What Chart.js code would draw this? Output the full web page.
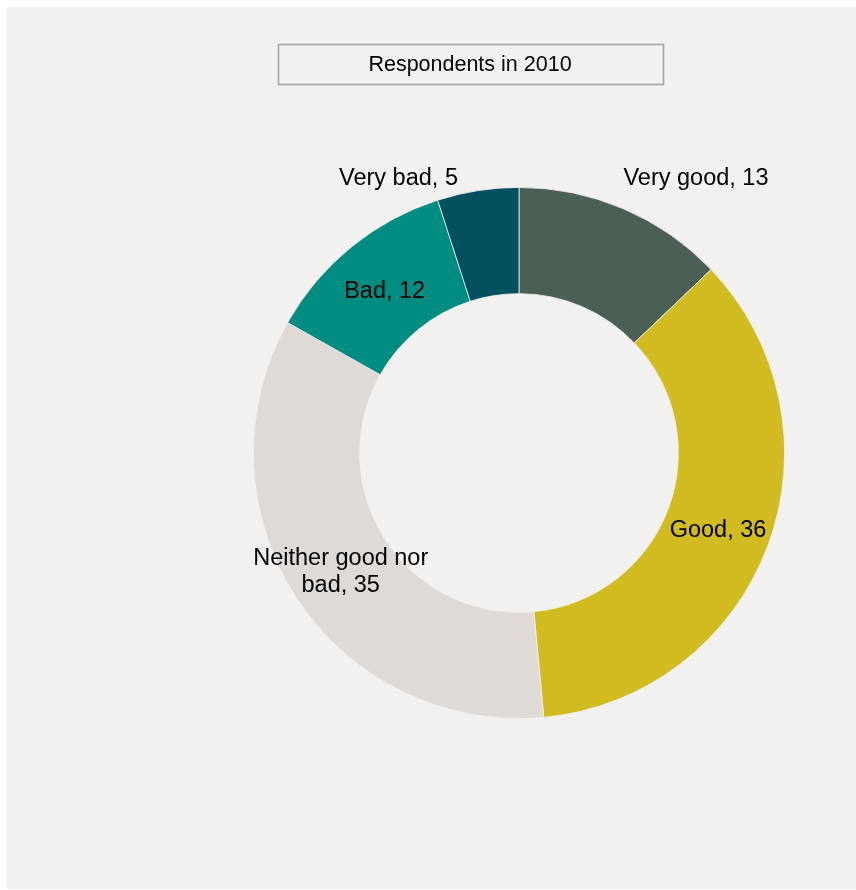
<!DOCTYPE html>
<html>
<head>
<meta charset="utf-8">
<script src="https://cdn.jsdelivr.net/npm/chart.js@4/dist/chart.umd.min.js"></script>
<style>
  html, body { margin: 0; padding: 0; background: #ffffff; }
  #wrap { position: relative; width: 856px; height: 890px; }
  #panel { position: absolute; left: 7px; top: 7px; width: 849px; height: 882px; background: #f2f1ef; }
  #chart { position: absolute; left: 0; top: 0; }
</style>
</head>
<body>
<div id="wrap">
  <div id="panel"></div>
  <canvas id="chart" width="856" height="890"></canvas>
</div>
<script>
const categories = ["Very good", "Good", "Neither good nor bad", "Bad", "Very bad"];
const values = [13, 36, 35, 12, 5];
const sliceColors = ["#4b5f54", "#d1bb20", "#dfdad6", "#008c81", "#03515e"];
const titleText = "Respondents in 2010";

// slices whose labels sit above the ring instead of inside it
const outsideLabels = ["Very good", "Very bad"];

const TITLE_FONT = '21.5px "Liberation Sans", Arial, sans-serif';
const LABEL_FONT = '23.5px "Liberation Sans", Arial, sans-serif';

function wrapText(ctx, text, maxWidth) {
  const words = text.split(" ");
  const lines = [];
  let line = "";
  words.forEach(w => {
    const test = line ? line + " " + w : w;
    if (ctx.measureText(test).width > maxWidth && line) {
      lines.push(line);
      line = w;
    } else {
      line = test;
    }
  });
  lines.push(line);
  return lines;
}

const titleBox = {
  id: "titleBox",
  beforeDatasetsDraw(chart) {
    const ctx = chart.ctx;
    ctx.save();
    ctx.strokeStyle = "#a4a4a4";
    ctx.lineWidth = 1.6;
    ctx.strokeRect(278.5, 44.5, 385, 40);
    ctx.fillStyle = "#000000";
    ctx.font = TITLE_FONT;
    ctx.textAlign = "center";
    ctx.textBaseline = "middle";
    ctx.fillText(titleText, 470, 65.5);
    ctx.restore();
  }
};

const sliceLabels = {
  id: "sliceLabels",
  afterDatasetsDraw(chart) {
    const ctx = chart.ctx;
    const meta = chart.getDatasetMeta(0);
    ctx.save();
    ctx.font = LABEL_FONT;
    ctx.fillStyle = "#000000";
    ctx.textBaseline = "middle";
    meta.data.forEach((arc, i) => {
      const p = arc.getProps(["x", "y", "startAngle", "endAngle", "innerRadius", "outerRadius"], true);
      const mid = (p.startAngle + p.endAngle) / 2;
      const text = categories[i] + ", " + values[i];
      if (outsideLabels.includes(categories[i])) {
        const y = chart.chartArea.top - 8.5;
        const fromTop = mid + Math.PI / 2;
        const right = Math.sin(fromTop) >= 0;
        const x = p.x + Math.tan(fromTop) * (p.y - y) - (right ? 13 : 18);
        ctx.textAlign = right ? "left" : "right";
        ctx.fillText(text, x, y);
      } else {
        const r = (p.innerRadius + p.outerRadius) / 2;
        const cx = p.x + Math.cos(mid) * r;
        const cy = p.y + Math.sin(mid) * r + 3;
        ctx.textAlign = "center";
        const lines = wrapText(ctx, text, 200);
        const lh = 27;
        lines.forEach((ln, k) => {
          ctx.fillText(ln, cx, cy + (k - (lines.length - 1) / 2) * lh);
        });
      }
    });
    ctx.restore();
  }
};

const ctx = document.getElementById("chart").getContext("2d");
new Chart(ctx, {
  type: "doughnut",
  data: {
    labels: categories,
    datasets: [{
      data: values,
      backgroundColor: sliceColors,
      borderColor: "#f2f1ef",
      borderWidth: 0.8
    }]
  },
  options: {
    responsive: false,
    animation: false,
    cutout: "60%",
    layout: { padding: { left: 253, right: 71, top: 187, bottom: 171 } },
    plugins: {
      legend: { display: false },
      title: { display: false },
      tooltip: { enabled: false }
    }
  },
  plugins: [titleBox, sliceLabels]
});
</script>
</body>
</html>
